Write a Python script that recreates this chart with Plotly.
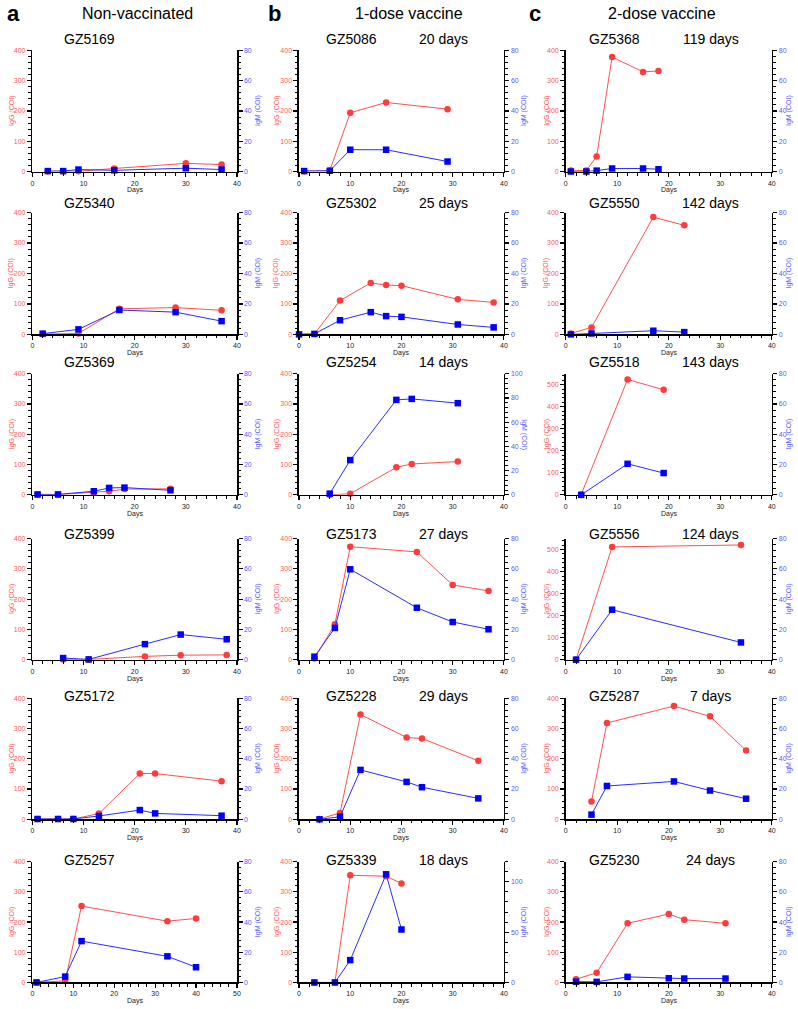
import plotly.graph_objects as go

W, H = 798, 1009

# ---------------- data ----------------
# Column a: Non-vaccinated
days_5169 = [3, 6, 9, 16, 30, 37]
igg_5169 = [1, 1, 1, 10, 27, 23]
igm_5169 = [0.3, 0.3, 1.3, 0.8, 2.2, 1.3]

days_5340 = [2, 9, 17, 28, 37]
igg_5340 = [1, 3, 84, 88, 79]
igm_5340 = [0.5, 3.3, 16, 14.6, 8.7]

days_5369 = [1, 5, 12, 15, 18, 27]
igg_5369 = [0.5, 0.5, 9, 12, 19, 20]
igm_5369 = [0.3, 0.3, 2.4, 4.6, 4.8, 3]

days_5399 = [6, 11, 22, 29, 38]
igg_5399 = [1, 1, 11, 15, 16]
igm_5399 = [1.1, 0.2, 10.3, 16.6, 13.5]

days_5172 = [1, 5, 8, 13, 21, 24, 37]
igg_5172 = [1, 1, 1, 19, 151, 151, 126]
igm_5172 = [0.2, 0.2, 0.2, 2.2, 6.1, 3.9, 2.4]

days_5257 = [1, 8, 12, 33, 40]
igg_5257 = [1, 5, 253, 203, 212]
igm_5257 = [0, 3.9, 27.4, 17.3, 10.1]

# Column b: 1-dose vaccine
days_5086 = [1, 6, 10, 17, 29]
igg_5086 = [1, 3, 194, 228, 206]
igm_5086 = [0.3, 0.5, 14.4, 14.4, 6.6]

days_5302 = [0, 3, 8, 14, 17, 20, 31, 38]
igg_5302 = [1, 1, 111, 169, 162, 160, 115, 105]
igm_5302 = [0, 0.3, 9.3, 14.6, 12, 11.5, 6.5, 4.6]

days_5254 = [6, 10, 19, 22, 31]
igg_5254 = [0, 4, 91, 102, 110]
igm_5254 = [1, 28.7, 78.4, 79.2, 75.7]

days_5173 = [3, 7, 10, 23, 30, 37]
igg_5173 = [4, 117, 373, 356, 247, 227]
igm_5173 = [2, 21, 59.7, 34.3, 24.9, 20.1]

days_5228 = [4, 8, 12, 21, 24, 35]
igg_5228 = [1, 21, 346, 270, 267, 193]
igm_5228 = [0, 1.7, 32.6, 24.7, 21.2, 13.8]

days_5339 = [3, 7, 10, 17, 20]
igg_5339 = [0, 0, 355, 352, 328]
igm_5339 = [0, 0, 22.2, 107.5, 52.6]

# Column c: 2-dose vaccine
days_5368 = [1, 4, 6, 9, 15, 18]
igg_5368 = [3, 3, 50, 378, 329, 332]
igm_5368 = [0, 0, 0.6, 2, 2, 1.5]

days_5550 = [1, 5, 17, 23]
igg_5550 = [3, 23, 385, 358]
igm_5550 = [0, 0.6, 2.4, 1.5]

days_5518 = [3, 12, 19]
igg_5518 = [2, 524, 477]
igm_5518 = [0, 20.5, 14.4]

days_5556 = [2, 9, 34]
igg_5556 = [1, 512, 521]
igm_5556 = [0, 33, 11.4]

days_5287 = [5, 8, 21, 28, 35]
igg_5287 = [59, 318, 374, 340, 227]
igm_5287 = [3.1, 22, 25, 19, 13.6]

days_5230 = [2, 6, 12, 20, 23, 31]
igg_5230 = [11, 32, 196, 227, 208, 196]
igm_5230 = [0.5, 0.4, 3.7, 2.8, 2.6, 2.6]

column_titles = ["Non-vaccinated", "1-dose vaccine", "2-dose vaccine"]
column_letters = ["a", "b", "c"]

# panel table built from the arrays: (id, days-since label, days, igg, igm, xmax, igg max, igm max, igm dtick)
panels = [
    ("GZ5169", "", days_5169, igg_5169, igm_5169, 40, 400, 80, 20),
    ("GZ5340", "", days_5340, igg_5340, igm_5340, 40, 400, 80, 20),
    ("GZ5369", "", days_5369, igg_5369, igm_5369, 40, 400, 80, 20),
    ("GZ5399", "", days_5399, igg_5399, igm_5399, 40, 400, 80, 20),
    ("GZ5172", "", days_5172, igg_5172, igm_5172, 40, 400, 80, 20),
    ("GZ5257", "", days_5257, igg_5257, igm_5257, 50, 400, 80, 20),
    ("GZ5086", "20 days", days_5086, igg_5086, igm_5086, 40, 400, 80, 20),
    ("GZ5302", "25 days", days_5302, igg_5302, igm_5302, 40, 400, 80, 20),
    ("GZ5254", "14 days", days_5254, igg_5254, igm_5254, 40, 400, 100, 20),
    ("GZ5173", "27 days", days_5173, igg_5173, igm_5173, 40, 400, 80, 20),
    ("GZ5228", "29 days", days_5228, igg_5228, igm_5228, 40, 400, 80, 20),
    ("GZ5339", "18 days", days_5339, igg_5339, igm_5339, 40, 400, 120, 50),
    ("GZ5368", "119 days", days_5368, igg_5368, igm_5368, 40, 400, 80, 20),
    ("GZ5550", "142 days", days_5550, igg_5550, igm_5550, 40, 400, 80, 20),
    ("GZ5518", "143 days", days_5518, igg_5518, igm_5518, 40, 550, 80, 20),
    ("GZ5556", "124 days", days_5556, igg_5556, igm_5556, 40, 550, 80, 20),
    ("GZ5287", "7 days", days_5287, igg_5287, igm_5287, 40, 400, 80, 20),
    ("GZ5230", "24 days", days_5230, igg_5230, igm_5230, 40, 400, 80, 20),
]

# ---------------- layout geometry (pixels) ----------------
col_x = [(30.7, 236.7), (299.3, 505.7), (568.0, 775.7)]
row_y = [(46.7, 168.7), (210.0, 332.7), (372.3, 494.3), (538.3, 660.3), (699.0, 821.0), (863.7, 985.3)]
title_y = [35, 200, 360, 534, 697, 862]
name_x = [88, 352, 617]
days_x = [None, 445, 714]
left_lab_x = [10, 277, 549]
right_lab_x = [258, 526, 793]

RED = "#ff3b3b"
RED_LINE = "#ff5050"
RED_TXT = "#ff5a5a"
BLUE = "#0000ff"
BLUE_LINE = "#2b2bff"
BLUE_TXT = "#5a5aff"
FONT = "Arial, Liberation Sans, sans-serif"


def px(x):
    return x / W


def py(y):
    return 1 - y / H


fig = go.Figure()
layout = dict(
    width=W, height=H, autosize=False,
    margin=dict(l=0, r=0, t=0, b=0),
    paper_bgcolor="white", plot_bgcolor="white",
    showlegend=False, font=dict(family=FONT, color="black"),
)
ann = []

axis_common = dict(
    showline=True, linecolor="black", linewidth=1.6, mirror=False,
    ticks="outside", ticklen=4, tickwidth=1.2, tickcolor="black",
    showgrid=False, zeroline=False, fixedrange=True,
)

for i, (name, dlab, days, igg, igm, xmax, gmax, mmax, mdt) in enumerate(panels):
    c, r = i // 6, i % 6
    n = i + 1
    xk = "xaxis" if n == 1 else f"xaxis{n}"
    xr = "x" if n == 1 else f"x{n}"
    yl_n, yr_n = 2 * i + 1, 2 * i + 2
    ylk = "yaxis" if yl_n == 1 else f"yaxis{yl_n}"
    ylr = "y" if yl_n == 1 else f"y{yl_n}"
    yrk = f"yaxis{yr_n}"
    yrr = f"y{yr_n}"

    x0, x1 = col_x[c]
    yt, yb = row_y[r]

    layout[xk] = dict(
        axis_common, domain=[px(x0), px(x1)], anchor=ylr, range=[0, xmax],
        dtick=10, tick0=0, tickfont=dict(size=7, color="#222", family=FONT),
        minor=dict(ticks="outside", dtick=2, ticklen=2.5, tickwidth=1, tickcolor="black"),
    )
    layout[ylk] = dict(
        axis_common, domain=[py(yb), py(yt)], anchor=xr, range=[0, gmax],
        dtick=100, tick0=0, tickfont=dict(size=7, color=RED_TXT, family=FONT),
        minor=dict(ticks="outside", dtick=20, ticklen=2.5, tickwidth=1, tickcolor="black"),
    )
    layout[yrk] = dict(
        axis_common, domain=[py(yb), py(yt)], anchor=xr, overlaying=ylr, side="right",
        range=[0, mmax], dtick=mdt, tick0=0,
        tickfont=dict(size=7, color=BLUE_TXT, family=FONT),
        minor=dict(ticks="outside", dtick=(10 if mdt == 50 else 4), ticklen=2.5, tickwidth=1, tickcolor="black"),
    )

    fig.add_trace(go.Scatter(
        x=days, y=igg, xaxis=xr, yaxis=ylr, mode="lines+markers", cliponaxis=False,
        line=dict(color=RED_LINE, width=1), marker=dict(symbol="circle", size=6.5, color=RED),
        name="IgG",
    ))
    fig.add_trace(go.Scatter(
        x=days, y=igm, xaxis=xr, yaxis=yrr, mode="lines+markers", cliponaxis=False,
        line=dict(color=BLUE_LINE, width=1), marker=dict(symbol="square", size=6.5, color=BLUE),
        name="IgM",
    ))

    # panel titles
    ann.append(dict(text=name, x=px(name_x[c]), y=py(title_y[r]), xref="paper", yref="paper",
                    showarrow=False, font=dict(size=14, color="black", family=FONT),
                    xanchor="center", yanchor="middle"))
    if dlab:
        ann.append(dict(text=dlab, x=px(days_x[c]), y=py(title_y[r]), xref="paper", yref="paper",
                        showarrow=False, font=dict(size=14, color="black", family=FONT),
                        xanchor="center", yanchor="middle"))
    # axis titles
    ymid = (yt + yb) / 2
    ann.append(dict(text="IgG (COI)", x=px(left_lab_x[c]), y=py(ymid), xref="paper", yref="paper",
                    showarrow=False, textangle=-90, font=dict(size=7, color=RED_TXT, family=FONT),
                    xanchor="center", yanchor="middle"))
    ann.append(dict(text="IgM (COI)", x=px(right_lab_x[c]), y=py(ymid), xref="paper", yref="paper",
                    showarrow=False, textangle=(90 if name == "GZ5254" else -90),
                    font=dict(size=7, color=BLUE_TXT, family=FONT),
                    xanchor="center", yanchor="middle"))
    ann.append(dict(text="Days", x=px((x0 + x1) / 2), y=py(yb + 19), xref="paper", yref="paper",
                    showarrow=False, font=dict(size=7, color="#222", family=FONT),
                    xanchor="center", yanchor="middle"))

# column headers
letter_x = [12, 275, 537]
header_x = [137, 410, 665]
for c in range(3):
    ann.append(dict(text=f"<b>{column_letters[c]}</b>", x=px(letter_x[c]), y=py(10), xref="paper", yref="paper",
                    showarrow=False, font=dict(size=22, color="black", family=FONT),
                    xanchor="center", yanchor="middle"))
    ann.append(dict(text=column_titles[c], x=px(header_x[c]), y=py(10), xref="paper", yref="paper",
                    showarrow=False, font=dict(size=16, color="black", family=FONT),
                    xanchor="center", yanchor="middle"))

layout["annotations"] = ann
fig.update_layout(**layout)
fig.write_html(
    "out.html",
    config={"displayModeBar": False, "staticPlot": True},
    post_script="document.body.style.margin='0';document.body.style.overflow='hidden';",
)
